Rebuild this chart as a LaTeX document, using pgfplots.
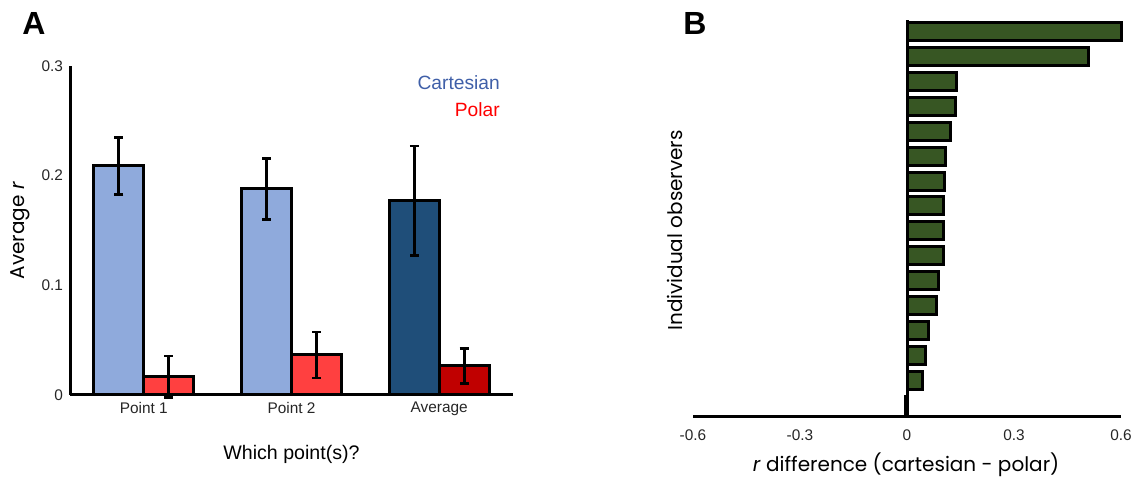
\documentclass[border=0pt]{standalone}
\usepackage{fontspec}
\setmainfont{Liberation Sans}
\newfontfamily\labfont{Poppins}
\usepackage{pgfplots}
\pgfplotsset{compat=1.18}

\definecolor{cartlight}{HTML}{8FAADC}
\definecolor{cartdark}{HTML}{1F4E79}
\definecolor{polarlight}{HTML}{FF4040}
\definecolor{polardark}{HTML}{C00000}
\definecolor{cartblue}{HTML}{3F5FA8}
\definecolor{diffgreen}{HTML}{375623}

\begin{document}
\begin{tikzpicture}[x=1pt,y=1pt]
\useasboundingbox (0,-245.5) rectangle (567.5,0);

% panel A
\begin{axis}[
  at={(35pt,-197.5pt)}, anchor=south west, scale only axis,
  width=221.5pt, height=164.5pt,
  xmin=-0.5, xmax=2.5, ymin=0, ymax=0.3,
  axis x line=bottom, axis y line=left,
  axis line style={line width=1.5pt,-},
  xtick={0,1,2}, xticklabels={Point 1,Point 2,Average},
  ytick={0,0.1,0.2,0.3}, yticklabels={0,0.1,0.2,0.3},
  major tick length=0pt,
  tick label style={font=\fontsize{7.7}{9}\selectfont, text=black!85},
  ybar, bar width=0.338,
  xlabel={Which point(s)?},
  ylabel={\labfont Average \textit{r}},
  every axis x label/.style={at={(axis description cs:0.5,-0.182)},anchor=center,font=\fontsize{9.8}{12}\selectfont},
  every axis y label/.style={at={(axis description cs:-0.113,0.5)},rotate=90,anchor=center,font=\fontsize{10}{12}\selectfont},
  clip=false,
]
\addplot[fill=cartlight, draw=black, line width=1.5pt, bar shift=-0.169,
  error bars/.cd, y dir=both, y explicit,
  error bar style={line width=1.4pt,black},
  error mark options={rotate=90,mark size=2.2pt,line width=1.4pt,black}]
  table[x=x,y=y,y error=e] {
x y e
0 0.209 0.026
1 0.188 0.028
};
\addplot[fill=cartdark, draw=black, line width=1.5pt, bar shift=-0.169,
  error bars/.cd, y dir=both, y explicit,
  error bar style={line width=1.4pt,black},
  error mark options={rotate=90,mark size=2.2pt,line width=1.4pt,black}]
  table[x=x,y=y,y error=e] {
x y e
2 0.177 0.050
};
\addplot[fill=polarlight, draw=black, line width=1.5pt, bar shift=0.169,
  error bars/.cd, y dir=both, y explicit,
  error bar style={line width=1.4pt,black},
  error mark options={rotate=90,mark size=2.2pt,line width=1.4pt,black}]
  table[x=x,y=y,y error=e] {
x y e
0 0.0166 0.019
1 0.0365 0.021
};
\addplot[fill=polardark, draw=black, line width=1.5pt, bar shift=0.169,
  error bars/.cd, y dir=both, y explicit,
  error bar style={line width=1.4pt,black},
  error mark options={rotate=90,mark size=2.2pt,line width=1.4pt,black}]
  table[x=x,y=y,y error=e] {
x y e
2 0.0265 0.016
};
\node[anchor=east, inner sep=0pt, text=cartblue, font=\fontsize{9.6}{12}\selectfont] at (rel axis cs:0.971,0.948) {Cartesian};
\node[anchor=east, inner sep=0pt, text=red, font=\fontsize{9.6}{12}\selectfont] at (rel axis cs:0.971,0.866) {Polar};
\end{axis}

% panel B
\begin{axis}[
  at={(346.5pt,-208.5pt)}, anchor=south west, scale only axis,
  width=214pt, height=198.5pt,
  xmin=-0.6, xmax=0.6, ymin=0.547, ymax=16.45,
  axis x line=bottom, axis y line=center,
  axis line style={line width=1.5pt,-},
  hide obscured x ticks=false,
  xtick={-0.6,-0.3,0,0.3,0.6}, xticklabels={-0.6,-0.3,0,0.3,0.6},
  ytick=\empty,
  major tick length=0pt,
  tick label style={font=\fontsize{7.7}{9}\selectfont, text=black!85},
  xticklabel style={yshift=-3pt},
  xbar, bar width=0.72,
  xlabel={\labfont\textit{r} difference (cartesian - polar)},
  ylabel={\labfont Individual observers},
  every axis x label/.style={at={(axis description cs:0.498,-0.121)},anchor=center,font=\fontsize{10}{12}\selectfont},
  every axis y label/.style={at={(axis description cs:-0.042,0.47)},rotate=90,anchor=center,font=\fontsize{10}{12}\selectfont},
  clip=false,
]
\addplot[fill=diffgreen, draw=black, line width=1.5pt] coordinates {
(0.600,16) (0.510,15) (0.140,14) (0.137,13) (0.121,12) (0.109,11)
(0.106,10) (0.103,9) (0.103,8) (0.101,7) (0.087,6) (0.083,5)
(0.060,4) (0.053,3) (0.044,2) (-0.005,1)
};
\end{axis}

\node[font=\bfseries\fontsize{16}{18}\selectfont] at (17,-11.5) {A};
\node[font=\bfseries\fontsize{16}{18}\selectfont] at (347.5,-11.5) {B};
\end{tikzpicture}
\end{document}
